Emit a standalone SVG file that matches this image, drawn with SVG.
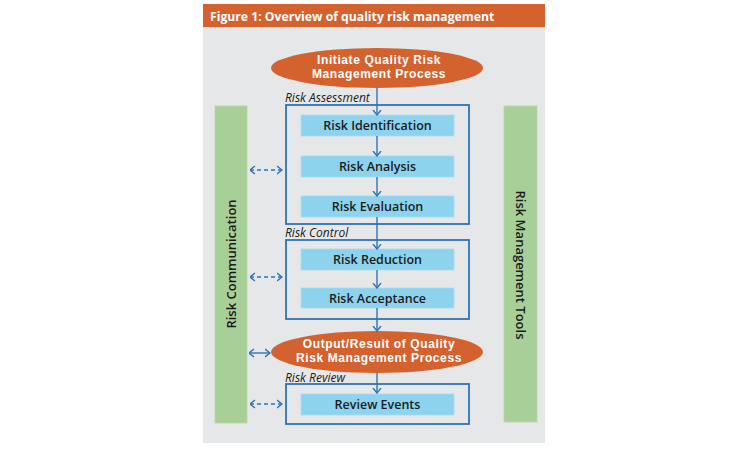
<svg xmlns="http://www.w3.org/2000/svg" width="750" height="450" viewBox="0 0 750 450">
<style>
.title{font-family:"Open Sans","Liberation Sans",sans-serif;font-weight:700;font-size:12.2px;fill:#fff}
.ell{fill:#D4622F}
.etxt{font-family:"Liberation Sans",Arial,sans-serif;font-weight:700;font-size:12px;letter-spacing:0.6px;fill:#fff;text-anchor:middle}
.frame{fill:none;stroke:#2F74B5;stroke-width:1.8}
.step{fill:#8DD3EE;stroke:#A9DDF2;stroke-width:0.8}
.stxt{font-family:"Open Sans","Liberation Sans",sans-serif;font-weight:600;font-size:12.5px;fill:#1b1b1b;text-anchor:middle}
.lbl{font-family:"Open Sans","Liberation Sans",sans-serif;font-style:italic;font-size:12px;fill:#1b1b1b}
.bar{fill:#A8CF98;stroke:#B5D6A7;stroke-width:0.8}
.btxt{font-family:"Open Sans","Liberation Sans",sans-serif;font-weight:600;font-size:13px;fill:#1b1b1b;text-anchor:middle}
.flow{fill:none;stroke:#2F74B5;stroke-width:1.4;marker-end:url(#chev)}
.comm{fill:none;stroke:#2F74B5;stroke-width:1.4;marker-start:url(#chev);marker-end:url(#chev)}
.dash{stroke-dasharray:4 3}
</style>
<defs>
<marker id="chev" viewBox="0 0 6 10" refX="5.5" refY="5" markerWidth="6" markerHeight="10" markerUnits="userSpaceOnUse" orient="auto-start-reverse">
<path d="M0.5,1 L5.5,5 L0.5,9" fill="none" stroke="#2F74B5" stroke-width="1.4" stroke-dasharray="none"/>
</marker>
</defs>
<rect x="203" y="27" width="342" height="416" fill="#E6E7E8"/>
<g id="title">
<rect x="203" y="4" width="342" height="23" fill="#D4622F"/>
<text class="title" x="210" y="21">Figure 1: Overview of quality risk management</text>
</g>
<g id="risk-communication">
<rect class="bar" x="215" y="106" width="32" height="317"/>
<text class="btxt" transform="translate(236,264) rotate(-90)">Risk Communication</text>
</g>
<g id="risk-management-tools">
<rect class="bar" x="504" y="106" width="33" height="316"/>
<text class="btxt" transform="translate(516,265) rotate(90)">Risk Management Tools</text>
</g>
<g id="initiate">
<ellipse class="ell" cx="377" cy="68" rx="106" ry="20"/>
<text class="etxt" x="379" y="64">Initiate Quality Risk</text>
<text class="etxt" x="379" y="78">Management Process</text>
</g>
<g id="risk-assessment">
<text class="lbl" x="285" y="102">Risk Assessment</text>
<rect class="frame" x="286" y="105" width="183" height="119"/>
</g>
<g id="risk-identification">
<rect class="step" x="301" y="115" width="153" height="21"/>
<text class="stxt" x="377.5" y="130">Risk Identification</text>
</g>
<g id="risk-analysis">
<rect class="step" x="301" y="156" width="153" height="21"/>
<text class="stxt" x="377.5" y="171">Risk Analysis</text>
</g>
<g id="risk-evaluation">
<rect class="step" x="301" y="196" width="153" height="21"/>
<text class="stxt" x="377.5" y="211">Risk Evaluation</text>
</g>
<g id="risk-control">
<text class="lbl" x="285" y="237">Risk Control</text>
<rect class="frame" x="286" y="240" width="183" height="79"/>
</g>
<g id="risk-reduction">
<rect class="step" x="301" y="249" width="153" height="21"/>
<text class="stxt" x="377.5" y="264">Risk Reduction</text>
</g>
<g id="risk-acceptance">
<rect class="step" x="301" y="288" width="153" height="20"/>
<text class="stxt" x="377.5" y="302.5">Risk Acceptance</text>
</g>
<g id="output">
<ellipse class="ell" cx="377" cy="352" rx="106" ry="21"/>
<text class="etxt" x="379" y="348">Output/Result of Quality</text>
<text class="etxt" x="379" y="362">Risk Management Process</text>
</g>
<g id="risk-review">
<text class="lbl" x="285" y="382">Risk Review</text>
<rect class="frame" x="286" y="384" width="183" height="40"/>
</g>
<g id="review-events">
<rect class="step" x="301" y="394" width="153" height="21"/>
<text class="stxt" x="377.5" y="409">Review Events</text>
</g>
<g id="connectors">
<path class="flow" d="M377,88 V115"/>
<path class="flow" d="M377,136 V156"/>
<path class="flow" d="M377,177 V196"/>
<path class="flow" d="M377,217 V249"/>
<path class="flow" d="M377,270 V288"/>
<path class="flow" d="M377,308 V331"/>
<path class="flow" d="M377,373 V393"/>
<path class="comm dash" d="M250,170 H282"/>
<path class="comm dash" d="M250,277 H282"/>
<path class="comm" d="M249,353 H270"/>
<path class="comm dash" d="M250,404 H282"/>
</g>
</svg>
